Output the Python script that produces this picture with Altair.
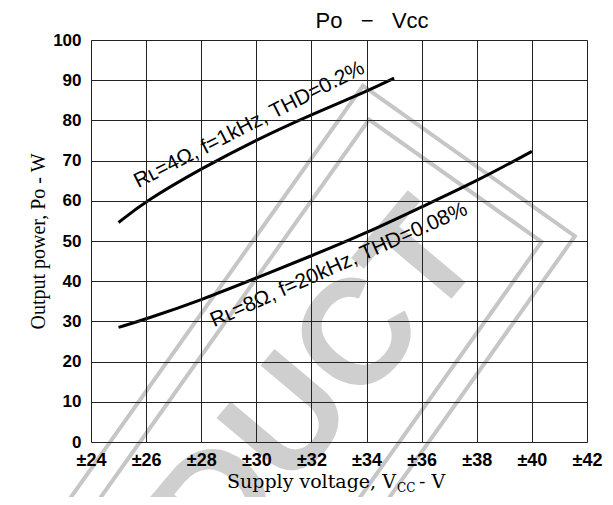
import altair as alt
import pandas as pd

# ---- data ----
vcc_4ohm = [25, 26, 28, 30, 32, 34, 35]
po_4ohm = [54.6, 60, 68.0, 75.2, 81.5, 87.2, 90.5]
vcc_8ohm = [25, 26, 28, 30, 32, 34, 36, 38, 40]
po_8ohm = [28.5, 30.6, 35.3, 40.8, 46.3, 52.0, 58.5, 64.9, 72.3]
x_ticks = [24, 26, 28, 30, 32, 34, 36, 38, 40, 42]
y_ticks = [0, 10, 20, 30, 40, 50, 60, 70, 80, 90, 100]
label_4ohm = "R\u029f=4\u03a9, f=1kHz, THD=0.2%"
label_8ohm = "R\u029f=8\u03a9, f=20kHz, THD=0.08%"
label_pos_4ohm = (29.75, 78.9)
label_pos_8ohm = (33.0, 44.0)
chart_title = "Po\u00a0\u00a0\u00a0\u2212\u00a0\u00a0\u00a0Vcc"

# watermark frame (decoration), corner points in data units
wm_outer_x = [20.53, 33.87, 41.56, 28.23, 20.53]
wm_outer_y = [-40.2, 88.6, 51.2, -77.5, -40.2]
wm_inner_x = [20.75, 34.09, 40.35, 27.01, 20.75]
wm_inner_y = [-48.5, 80.2, 49.8, -78.9, -48.5]

W, H = 496, 402

df = pd.DataFrame({
    "vcc": vcc_4ohm + vcc_8ohm,
    "po": po_4ohm + po_8ohm,
    "series": ["4ohm"] * len(vcc_4ohm) + ["8ohm"] * len(vcc_8ohm),
})
wm = pd.DataFrame({
    "x": wm_outer_x + wm_inner_x,
    "y": wm_outer_y + wm_inner_y,
    "o": list(range(len(wm_outer_x))) + list(range(len(wm_inner_x))),
    "f": ["outer"] * len(wm_outer_x) + ["inner"] * len(wm_inner_x),
})

xs = alt.Scale(domain=[24, 42], nice=False, zero=False)
ys = alt.Scale(domain=[0, 100], nice=False, zero=False)

x_axis = alt.Axis(values=x_ticks, labelExpr="'\u00b1' + datum.value",
                  labelFont="Liberation Sans", labelFontWeight="bold", labelFontSize=18,
                  labelColor="black", ticks=False, labelPadding=9, grid=True,
                  gridColor="#222222", gridWidth=1, domain=False, title=None,
                  labelFlush=False, zindex=1)
y_axis = alt.Axis(values=y_ticks, labelFont="Liberation Sans", labelFontWeight="bold",
                  labelFontSize=17, labelColor="black", ticks=False, labelPadding=10,
                  grid=True, gridColor="#222222", gridWidth=1, domain=False,
                  title="Output power, Po - W", titleFont="Liberation Serif",
                  titleFontSize=20, titleFontWeight="normal", titleColor="black",
                  titleAngle=270, titleAlign="center", titleBaseline="middle",
                  titleX=-53, titleY=H / 2, labelFlush=False, zindex=1)

frame = alt.Chart(wm).mark_line(color="#c6c6c6", strokeWidth=4, clip=False).encode(
    x=alt.X("x:Q", scale=xs, axis=x_axis),
    y=alt.Y("y:Q", scale=ys, axis=y_axis),
    order="o:Q",
    detail="f:N",
)

watermark = alt.Chart(pd.DataFrame({"x": [28.5], "y": [-17], "t": ["PRODUCT"]})).mark_text(
    font="Liberation Sans", fontWeight="bold", fontSize=150,
    color="#cfcfcf", angle=310, align="center", baseline="middle"
).encode(x=alt.X("x:Q", scale=xs), y=alt.Y("y:Q", scale=ys), text="t:N")

lines = alt.Chart(df).mark_line(color="black", strokeWidth=3, interpolate="basis").encode(
    x=alt.X("vcc:Q", scale=xs),
    y=alt.Y("po:Q", scale=ys),
    detail="series:N",
)

lab1 = alt.Chart(pd.DataFrame({"x": [label_pos_4ohm[0]], "y": [label_pos_4ohm[1]], "t": [label_4ohm]})).mark_text(
    font="Liberation Sans", fontSize=21, angle=333, color="black", align="center", baseline="middle"
).encode(x=alt.X("x:Q", scale=xs), y=alt.Y("y:Q", scale=ys), text="t:N")

lab2 = alt.Chart(pd.DataFrame({"x": [label_pos_8ohm[0]], "y": [label_pos_8ohm[1]], "t": [label_8ohm]})).mark_text(
    font="Liberation Sans", fontSize=21, angle=336, color="black", align="center", baseline="middle"
).encode(x=alt.X("x:Q", scale=xs), y=alt.Y("y:Q", scale=ys), text="t:N")

title_mark = alt.Chart(pd.DataFrame({"t": [chart_title]})).mark_text(
    font="Liberation Sans", fontSize=22, color="black", align="center", baseline="alphabetic"
).encode(x=alt.value(281), y=alt.value(-12), text="t:N")

xt1 = alt.Chart(pd.DataFrame({"t": ["Supply voltage, V"]})).mark_text(
    font="DejaVu Serif", fontSize=19, color="black", align="left", baseline="alphabetic"
).encode(x=alt.value(136), y=alt.value(448), text="t:N")
xt2 = alt.Chart(pd.DataFrame({"t": ["CC"]})).mark_text(
    font="DejaVu Serif", fontSize=12, color="black", align="left", baseline="alphabetic"
).encode(x=alt.value(306), y=alt.value(452), text="t:N")
xt3 = alt.Chart(pd.DataFrame({"t": ["- V"]})).mark_text(
    font="DejaVu Serif", fontSize=19, color="black", align="left", baseline="alphabetic"
).encode(x=alt.value(328), y=alt.value(448), text="t:N")

chart = alt.layer(frame, watermark, lines, lab1, lab2, title_mark, xt1, xt2, xt3).properties(
    width=W, height=H, autosize="none",
    padding={"left": 83, "top": 32, "right": 18, "bottom": 55},
).configure_view(stroke="black", strokeWidth=2).configure(background="white")

chart.save("out.html", embed_options={"renderer": "svg", "actions": False})
